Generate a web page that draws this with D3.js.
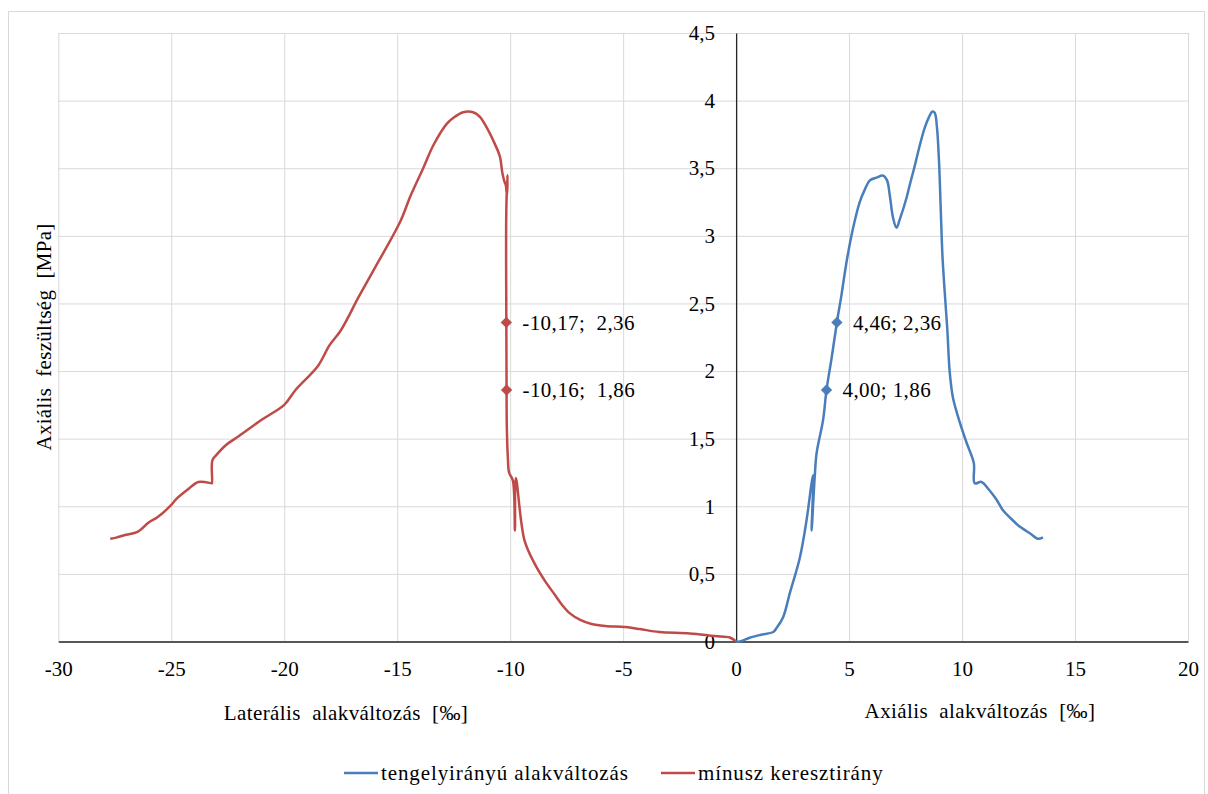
<!DOCTYPE html>
<html>
<head>
<meta charset="utf-8">
<script src="https://cdn.jsdelivr.net/npm/d3@7"></script>
<style>
  body { margin: 0; background: #fff; }
  svg text { font-family: "Liberation Serif", "Times New Roman", "DejaVu Serif", serif !important; fill: #000; }
</style>
</head>
<body>
<div id="chart-wrapper"></div>
<script>
// mínusz keresztirány (laterális alakváltozás)
var redX = [0, -0.28, -0.95, -2.05, -3.4, -4.26, -4.9, -5.8, -6.4, -6.9, -7.37, -7.7, -8.0, -8.47, -8.9, -9.37,
  -9.75, -9.79, -9.88, -10.05, -10.10, -10.15, -10.16, -10.17, -10.18, -10.17, -10.12, -10.14, -10.2, -10.23,
  -10.34, -10.46, -10.68, -10.97, -11.34, -11.64, -12.08, -12.45, -12.8, -13.4, -13.85, -14.4, -14.88, -16.0,
  -16.7, -17.5, -18.0, -18.5, -19.5, -20.0, -21.0, -22.0, -22.6, -23.0, -23.18, -23.2, -23.22, -23.8, -24.3,
  -24.8, -25.0, -25.6, -26.0, -26.5, -27.0, -27.4, -27.7];
var redY = [0, 0.03, 0.04, 0.06, 0.07, 0.092, 0.107, 0.115, 0.13, 0.16, 0.21, 0.27, 0.34, 0.45, 0.57, 0.75,
  1.21, 0.82, 1.19, 1.25, 1.35, 1.6, 1.86, 2.36, 2.8, 3.2, 3.45, 3.3, 3.38, 3.39,
  3.46, 3.59, 3.68, 3.78, 3.88, 3.914, 3.914, 3.88, 3.83, 3.67, 3.5, 3.3, 3.1, 2.76,
  2.55, 2.3, 2.19, 2.04, 1.86, 1.75, 1.64, 1.52, 1.45, 1.38, 1.34, 1.17, 1.17, 1.18, 1.12,
  1.05, 1.01, 0.92, 0.88, 0.81, 0.79, 0.77, 0.76];

// tengelyirányú alakváltozás
var blueX = [0, 0.16, 0.6, 1.1, 1.64, 1.79, 2.08, 2.38, 2.82, 3.12, 3.34, 3.41, 3.34, 3.48, 3.56, 3.85, 4.0,
  4.23, 4.46, 4.66, 4.9, 5.18, 5.47, 5.69, 5.92, 6.21, 6.5, 6.68, 6.8, 6.95, 7.1, 7.24, 7.54, 7.69, 7.91,
  8.13, 8.35, 8.54, 8.69, 8.79, 8.89, 8.98, 9.06, 9.13, 9.23, 9.35, 9.45, 9.6, 9.9, 10.2, 10.52, 10.56,
  10.86, 11.2, 11.52, 11.81, 12.1, 12.48, 13.0, 13.36, 13.58];
var blueY = [0, 0, 0.028, 0.05, 0.07, 0.1, 0.18, 0.36, 0.62, 0.90, 1.17, 1.23, 0.82, 1.22, 1.39, 1.64, 1.86,
  2.1, 2.36, 2.56, 2.82, 3.06, 3.25, 3.34, 3.41, 3.43, 3.445, 3.41, 3.30, 3.13, 3.06, 3.12, 3.28, 3.38, 3.52,
  3.67, 3.80, 3.88, 3.92, 3.91, 3.80, 3.55, 3.18, 2.86, 2.59, 2.3, 2.0, 1.8, 1.62, 1.47, 1.32, 1.17,
  1.18, 1.12, 1.05, 0.97, 0.92, 0.86, 0.80, 0.76, 0.77];

var markX = [-10.17, -10.16, 4.46, 4.00];
var markY = [2.36, 1.86, 2.36, 1.86];
var markLabels = ["-10,17;  2,36", "-10,16;  1,86", "4,46; 2,36", "4,00; 1,86"];
var markSeries = [1, 1, 0, 0];

var xTicks = [-30, -25, -20, -15, -10, -5, 0, 5, 10, 15, 20];
var yTicks = [0, 0.5, 1, 1.5, 2, 2.5, 3, 3.5, 4, 4.5];
var seriesNames = ["tengelyirányú alakváltozás", "mínusz keresztirány"];
var colors = ["#4a7ebb", "#be4b48"];

var width = 1208, height = 794;
var plot = {left: 58.3, right: 1188, top: 33, bottom: 641.5};
var fontSize = "21px";
var serif = "'Liberation Serif', 'Times New Roman', 'DejaVu Serif', serif";

var svg = d3.select("#chart-wrapper").append("svg")
  .attr("width", width)
  .attr("height", height)
  .attr("font-family", serif);

svg.append("rect")
  .attr("x", 8.5).attr("y", 11.5)
  .attr("width", 1196).attr("height", 800)
  .attr("fill", "#fff")
  .attr("stroke", "#d9d9d9")
  .attr("stroke-width", 1);

var x = d3.scaleLinear().domain([-30, 20]).range([plot.left, plot.right]);
var y = d3.scaleLinear().domain([0, 4.5]).range([plot.bottom, plot.top]);

function fmt(d) { return String(d).replace(".", ","); }

// grid
svg.append("g")
  .attr("transform", "translate(0," + plot.bottom + ")")
  .call(d3.axisBottom(x).tickValues(xTicks).tickSize(-(plot.bottom - plot.top)).tickFormat(""))
  .call(function(g){ g.select(".domain").remove(); g.selectAll("line").attr("stroke", "#d9d9d9"); });
svg.append("g")
  .attr("transform", "translate(" + plot.left + ",0)")
  .call(d3.axisLeft(y).tickValues(yTicks).tickSize(-(plot.right - plot.left)).tickFormat(""))
  .call(function(g){ g.select(".domain").remove(); g.selectAll("line").attr("stroke", "#d9d9d9"); });

// axes crossing at zero
var xAxis = svg.append("g")
  .attr("transform", "translate(0," + y(0) + ")")
  .call(d3.axisBottom(x).tickValues(xTicks).tickSize(0).tickSizeOuter(0).tickPadding(20).tickFormat(fmt));
var yAxis = svg.append("g")
  .attr("transform", "translate(" + x(0) + ",0)")
  .call(d3.axisLeft(y).tickValues(yTicks).tickSize(0).tickSizeOuter(0).tickPadding(21).tickFormat(fmt));
[xAxis, yAxis].forEach(function(g){
  g.attr("font-family", serif).attr("font-size", fontSize);
  g.select(".domain").attr("stroke", "#262626").attr("stroke-width", 1.3);
  g.selectAll("text").attr("fill", "#000");
});

// series
var line = d3.line()
  .curve(d3.curveCatmullRom.alpha(0.5))
  .x(function(d){ return x(d[0]); })
  .y(function(d){ return y(d[1]); });
var redData = redX.map(function(v, i){ return [v, redY[i]]; });
var blueData = blueX.map(function(v, i){ return [v, blueY[i]]; });

svg.append("path").datum(redData)
  .attr("d", line).attr("fill", "none")
  .attr("stroke", colors[1]).attr("stroke-width", 2.5).attr("stroke-linejoin", "round");
svg.append("path").datum(blueData)
  .attr("d", line).attr("fill", "none")
  .attr("stroke", colors[0]).attr("stroke-width", 2.5).attr("stroke-linejoin", "round");

// markers + labels
for (var i = 0; i < markX.length; i++) {
  svg.append("path")
    .attr("d", d3.symbol().type(d3.symbolSquare).size(64)())
    .attr("transform", "translate(" + x(markX[i]) + "," + y(markY[i]) + ") rotate(45)")
    .attr("fill", colors[markSeries[i]]);
  svg.append("text")
    .attr("x", x(markX[i]) + 16)
    .attr("y", y(markY[i]))
    .attr("dy", "0.35em")
    .attr("font-size", fontSize)
    .attr("letter-spacing", "0.4px")
    .style("white-space", "pre")
    .text(markLabels[i]);
}

// titles
svg.append("text")
  .attr("x", 346).attr("y", 720)
  .attr("text-anchor", "middle")
  .attr("font-size", fontSize)
  .attr("letter-spacing", "0.4px")
  .style("white-space", "pre")
  .text("Laterális  alakváltozás  [‰]");
svg.append("text")
  .attr("x", 980).attr("y", 718)
  .attr("text-anchor", "middle")
  .attr("font-size", fontSize)
  .attr("letter-spacing", "0.4px")
  .style("white-space", "pre")
  .text("Axiális  alakváltozás  [‰]");
svg.append("text")
  .attr("transform", "translate(51,337) rotate(-90)")
  .attr("text-anchor", "middle")
  .attr("font-size", fontSize)
  .attr("letter-spacing", "0.3px")
  .style("white-space", "pre")
  .text("Axiális  feszültség  [MPa]");

// legend
var legendPos = [[344, 378], [661, 695]];
for (var j = 0; j < seriesNames.length; j++) {
  svg.append("line")
    .attr("x1", legendPos[j][0]).attr("x2", legendPos[j][1])
    .attr("y1", 773).attr("y2", 773)
    .attr("stroke", colors[j]).attr("stroke-width", 2.5);
  svg.append("text")
    .attr("x", legendPos[j][1] + 3).attr("y", 773)
    .attr("dy", "0.35em")
    .attr("font-size", fontSize)
    .attr("letter-spacing", "0.9px")
    .text(seriesNames[j]);
}
</script>
</body>
</html>
